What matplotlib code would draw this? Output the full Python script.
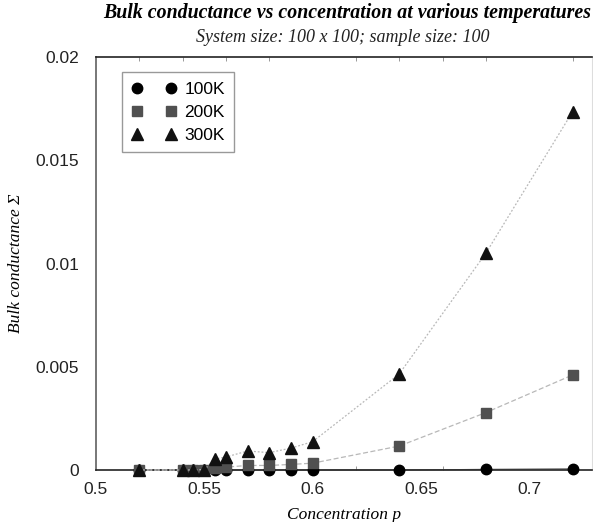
import matplotlib
matplotlib.use("Agg")
import matplotlib.pyplot as plt
from matplotlib.ticker import FixedLocator
import numpy as np

p = [0.52, 0.54, 0.545, 0.55, 0.555, 0.56, 0.57, 0.58, 0.59, 0.60, 0.64, 0.68, 0.72]
s100 = [0.0, 0.0, 0.0, 0.0, 0.0, 0.0, 0.0, 0.0, 0.0, 0.0, 0.0, 0.00003, 0.00005]
s200 = [0.0, 0.0, 0.0, 0.00001, 0.00008, 0.00014, 0.00022, 0.00022, 0.00027, 0.00033, 0.00116, 0.00278, 0.0046]
s300 = [0.0, 0.0, 0.0, 0.00002, 0.00053, 0.00063, 0.00092, 0.00084, 0.00106, 0.00137, 0.00465, 0.01050, 0.01734]
labels = ["100K", "200K", "300K"]
xtick_vals = [0.5, 0.55, 0.6, 0.65, 0.7]
xtick_labels = ["0.5", "0.55", "0.6", "0.65", "0.7"]
ytick_vals = [0, 0.005, 0.01, 0.015, 0.02]
ytick_labels = ["0", "0.005", "0.01", "0.015", "0.02"]

sans = ["Liberation Sans", "DejaVu Sans"]
serif = ["Liberation Serif", "DejaVu Serif"]
plt.rcParams["font.family"] = sans

fig = plt.figure(figsize=(5.93, 5.22), dpi=100)
ax = fig.add_axes([96/593, 52/522, (592-96)/593, (470-57)/522])

ax.plot(p, s100, color="#333333", lw=0.8, marker="o", ms=7.5, mfc="black", mec="black", zorder=3, clip_on=False, label=labels[0])
ax.plot(p, s200, color="#b8b8b8", lw=0.9, ls=(0, (4, 2)), marker="s", ms=6.5, mfc="#505050", mec="#505050", zorder=4, clip_on=False, label=labels[1])
ax.plot(p, s300, color="#b8b8b8", lw=0.9, ls=(0, (1.5, 1.5)), marker="^", ms=8, mfc="#111111", mec="#111111", zorder=5, clip_on=False, label=labels[2])

ax.set_xlim(0.5, 0.729)
ax.set_ylim(0, 0.02)

ax.xaxis.set_major_locator(FixedLocator(xtick_vals))
ax.xaxis.set_minor_locator(FixedLocator(list(np.round(np.arange(0.52, 0.73, 0.02), 3))))
ax.set_xticklabels(xtick_labels)
ax.yaxis.set_major_locator(FixedLocator(ytick_vals))
ax.set_yticklabels(ytick_labels)
ax.tick_params(axis="x", which="major", length=0, labelsize=12.5, pad=9, colors="#222222")
ax.tick_params(axis="x", which="minor", length=3, direction="in", top=True, bottom=True, color="#888888")
ax.tick_params(axis="y", which="major", length=0, labelsize=12.5, pad=12, colors="#222222")

for side in ["top", "bottom"]:
    ax.spines[side].set_color("#222222")
    ax.spines[side].set_linewidth(1.2)
ax.spines["left"].set_color("#777777")
ax.spines["left"].set_linewidth(1.4)
ax.spines["right"].set_color("#dddddd")
ax.spines["right"].set_linewidth(0.8)

ax.set_xlabel("Concentration p", family=serif, style="italic", fontsize=12.5)
ax.set_ylabel("Bulk conductance \u03A3", family=serif, style="italic", fontsize=12.5)
ax.yaxis.set_label_coords(-0.145, 0.5)
ax.xaxis.set_label_coords(0.5, -0.09)

fig.text(0.585, 0.975, "Bulk conductance vs concentration at various temperatures",
         family=serif, style="italic", weight="bold", fontsize=14.3, ha="center", va="center")
fig.text(0.578, 0.929, "System size: 100 x 100; sample size: 100",
         family=serif, style="italic", fontsize=13, ha="center", va="center", color="#222222")

leg = ax.legend(loc="upper left", bbox_to_anchor=(0.052, 0.963), numpoints=2,
                fancybox=False, framealpha=1, edgecolor="#999999",
                prop={"family": sans, "size": 12.5},
                handlelength=2.6, handletextpad=0.45, borderpad=0.55, labelspacing=0.45,
                borderaxespad=0)
for h in leg.legend_handles:
    h.set_linestyle("none")
leg.get_frame().set_linewidth(1.0)

fig.savefig("out.png", dpi=100)
